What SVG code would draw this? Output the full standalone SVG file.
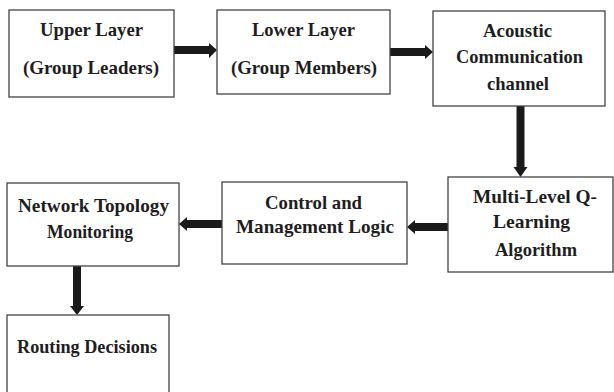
<svg xmlns="http://www.w3.org/2000/svg" width="614" height="392" viewBox="0 0 614 392">
<style>
.box{fill:#fff;stroke:#444;stroke-width:1.3}
.t{font-family:'Liberation Serif','Times New Roman',Times,serif;font-weight:700;font-size:19px;fill:#1e1e1e;text-anchor:middle}
.c{stroke:#1a1a1a;stroke-width:8;fill:none}
.h{fill:#1a1a1a}
</style>
<rect width="614" height="392" fill="#fff"/>
<g id="connectors">
<line class="c" x1="174" y1="50" x2="210" y2="50"/><polygon class="h" points="209,43 217,50 209,58"/>
<line class="c" x1="390" y1="52" x2="426" y2="52"/><polygon class="h" points="425,45 433,52 425,59"/>
<line class="c" x1="520.5" y1="106" x2="520.5" y2="168"/><polygon class="h" points="513.5,167 520.5,177 527.5,167"/>
<line class="c" x1="448" y1="227" x2="414" y2="227"/><polygon class="h" points="415,220 407,227 415,234"/>
<line class="c" x1="222" y1="224" x2="186" y2="224"/><polygon class="h" points="187,217 179,224 187,231"/>
<line class="c" x1="77" y1="266" x2="77" y2="307"/><polygon class="h" points="70,306 77,315 84,306"/>
</g>
<g id="upper"><rect class="box" x="9" y="10" width="165" height="87"/><text class="t" x="91.5" y="36" textLength="103" lengthAdjust="spacingAndGlyphs">Upper Layer</text><text class="t" x="91" y="74" textLength="136" lengthAdjust="spacingAndGlyphs">(Group Leaders)</text></g>
<g id="lower"><rect class="box" x="217" y="10" width="173" height="84"/><text class="t" x="303.5" y="36" textLength="103" lengthAdjust="spacingAndGlyphs">Lower Layer</text><text class="t" x="304" y="74" textLength="146" lengthAdjust="spacingAndGlyphs">(Group Members)</text></g>
<g id="acoustic"><rect class="box" x="433" y="11" width="172" height="95"/><text class="t" x="517.5" y="37" textLength="69" lengthAdjust="spacingAndGlyphs">Acoustic</text><text class="t" x="519.5" y="63" textLength="127" lengthAdjust="spacingAndGlyphs">Communication</text><text class="t" x="518" y="90" textLength="62" lengthAdjust="spacingAndGlyphs">channel</text></g>
<g id="qlearning"><rect class="box" x="448" y="177" width="165" height="95"/><text class="t" x="535" y="203" textLength="124" lengthAdjust="spacingAndGlyphs">Multi-Level Q-</text><text class="t" x="531.5" y="228" textLength="77" lengthAdjust="spacingAndGlyphs">Learning</text><text class="t" x="536" y="256" textLength="82" lengthAdjust="spacingAndGlyphs">Algorithm</text></g>
<g id="control"><rect class="box" x="222" y="182" width="185" height="82"/><text class="t" x="313.5" y="209" textLength="97" lengthAdjust="spacingAndGlyphs">Control and</text><text class="t" x="315" y="233" textLength="158" lengthAdjust="spacingAndGlyphs">Management Logic</text></g>
<g id="network"><rect class="box" x="7" y="183" width="172" height="83"/><text class="t" x="93.5" y="212" textLength="151" lengthAdjust="spacingAndGlyphs">Network Topology</text><text class="t" x="90" y="238" textLength="86" lengthAdjust="spacingAndGlyphs">Monitoring</text></g>
<g id="routing"><rect class="box" x="7" y="315" width="162" height="90"/><text class="t" x="87" y="353" textLength="140" lengthAdjust="spacingAndGlyphs">Routing Decisions</text></g>
</svg>
